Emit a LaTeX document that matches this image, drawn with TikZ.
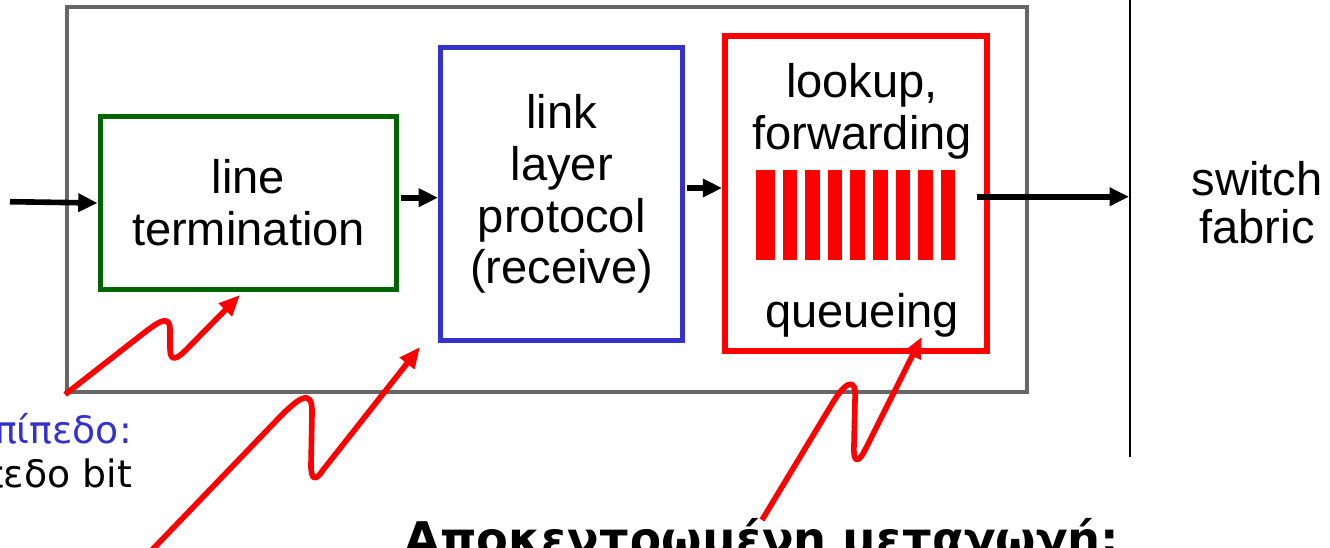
\documentclass[tikz,border=0pt]{standalone}
\usepackage{fontspec}
\setmainfont{Liberation Sans}
\newfontfamily\notefont{DejaVu Sans}
\usetikzlibrary{arrows.meta,calc}
\definecolor{boxgray}{RGB}{102,102,102}
\definecolor{termgreen}{RGB}{0,100,0}
\definecolor{protoblue}{RGB}{51,51,204}
\def\boxfont{\fontsize{26.8}{29.5}\selectfont}
\def\notesize{\fontsize{21.5}{24}\selectfont}
\def\thick{2.83pt}

\begin{document}
\begin{tikzpicture}[x=0.02cm,y=-0.02cm,>={Triangle[length=11pt,width=10pt]}]
\tikzset{box/.style={draw,inner sep=0pt,align=center,font=\boxfont},
  flow/.style={->,line width=3.2pt},
  squig/.style={red,line width=3.2pt,line join=round,-{Triangle[length=12pt,width=10pt]}}}
\useasboundingbox (0,0) rectangle (1330,548);
\clip (0,0) rectangle (1330,548);
\node[box,boxgray,line width=2.27pt,minimum width=19.2cm,minimum height=7.71cm] (outer) at (547,199.75) {};
\node[box,termgreen,text=black,line width=\thick,minimum width=5.94cm,minimum height=3.46cm] (lineterm) at (248.5,203) {line\\termination};
\node[box,protoblue,text=black,line width=\thick,minimum width=4.85cm,minimum height=5.88cm] (linkproto) at (561.75,194) {link\\layer\\protocol\\(receive)};
\node[box,red,line width=3.4pt,minimum width=5.23cm,minimum height=6.29cm] (lookup) at (855.85,193.35) {};
\node[font=\boxfont,align=center] (lookuptxt) at (862,111) {lookup,\\forwarding};
\node[font=\boxfont,anchor=base] (queue) at (862,327) {queueing};
\fill[red] (756,170) rectangle ++(19,90);
\foreach \i in {1,...,8}
  \fill[red] (760+\i*22.6,170) rectangle ++(14.5,90);
\node[font=\fontsize{26.8}{27.2}\selectfont,align=center] (fabric) at (1257,203) {switch\\fabric};
\coordinate (fabtop) at (1130,0);
\coordinate (fabbot) at (1130,457);
\draw[line width=1.13pt] (fabtop) -- (fabbot);
\coordinate (in) at (10,201.7);
\draw[flow] (in) -- (lineterm.west);
\draw[flow] ($(lineterm.east)+(2,-5.3)$) -- ($(lineterm.east -| linkproto.west)+(0,-5.3)$);
\draw[flow] ($(linkproto.east)+(2,-6)$) -- ($(linkproto.east -| lookup.west)+(0,-6)$);
\draw[flow] ($(lookup.east)+(-13,3.4)$) -- ($(lookup.east -| fabtop)+(-1,3.4)$);
\node[font=\notefont\notesize,text=protoblue,anchor=base east] (physnote) at (138,443) {Φυσικό επίπεδο:};
\node[font=\notefont\notesize,anchor=base east] (bitnote) at (138,487) {λήψη σε επίπεδο bit};
\node[font=\notefont\bfseries\fontsize{26.4}{30}\selectfont,anchor=base west] (switchnote) at (398,555) {Αποκεντρωμένη μεταγωγή:};
\coordinate (sq2) at (152,550);
\coordinate (sq3) at (762,520);
\draw[squig] (outer.south west) -- (140,336) .. controls (158,322) and (171,312) .. (170,332) -- (170,348) .. controls (170,362) and (176,360) .. (186,350) -- ($(lineterm.south)+(-8.5,3)$);
\draw[squig] (sq2) -- (275,422) .. controls (298,398) and (313,386) .. (312,414) -- (311,465) .. controls (311,481) and (316,481) .. (323,470) -- ($(linkproto.south west)+(-18,3.5)$);
\draw[squig] (sq3) -- (832,404) .. controls (845,382) and (857,375) .. (855,400) -- (854,445) .. controls (853,463) and (858,463) .. (864,452) -- ($(lookup.south)+(66,-16.7)$);
\end{tikzpicture}
\end{document}
